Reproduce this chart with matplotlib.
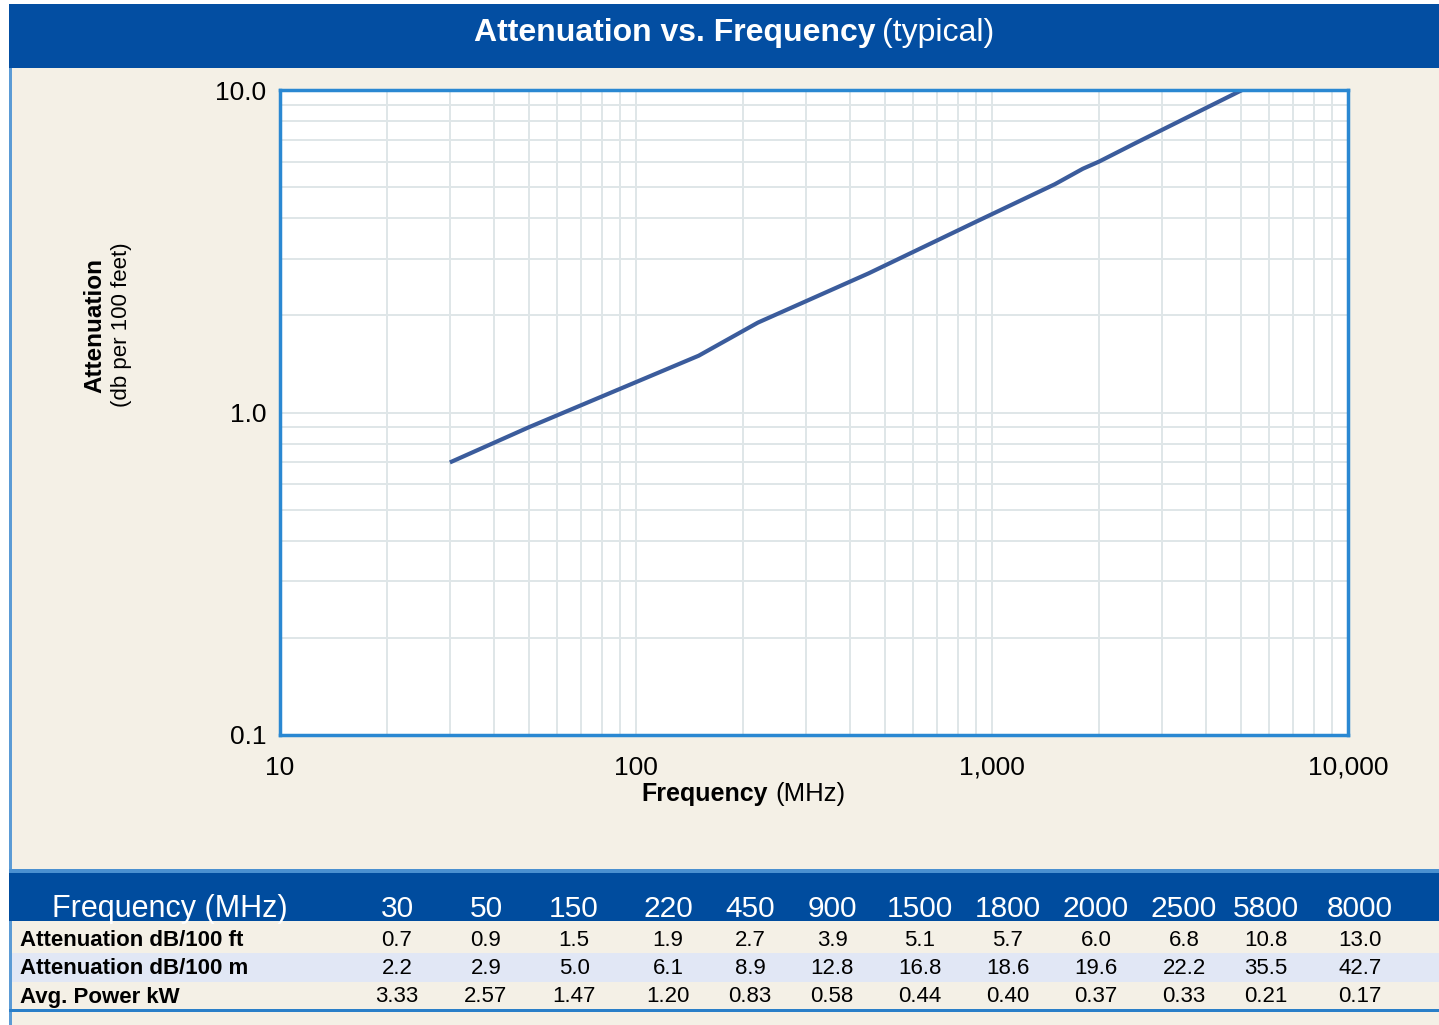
import matplotlib
matplotlib.use("Agg")
import matplotlib.pyplot as plt
from matplotlib.patches import Rectangle
from matplotlib.ticker import LogLocator, FixedLocator, FixedFormatter, NullFormatter

plt.rcParams['font.family'] = ['Liberation Sans', 'DejaVu Sans']
NARROW = ['Liberation Sans Narrow', 'Liberation Sans', 'DejaVu Sans']

# table / curve data
freq_mhz = [30, 50, 150, 220, 450, 900, 1500, 1800, 2000, 2500, 5800, 8000]
att_100ft = [0.7, 0.9, 1.5, 1.9, 2.7, 3.9, 5.1, 5.7, 6.0, 6.8, 10.8, 13.0]
att_100m = [2.2, 2.9, 5.0, 6.1, 8.9, 12.8, 16.8, 18.6, 19.6, 22.2, 35.5, 42.7]
avg_power_kw = ["3.33", "2.57", "1.47", "1.20", "0.83", "0.58", "0.44", "0.40", "0.37", "0.33", "0.21", "0.17"]
row_labels = ["Attenuation dB/100 ft", "Attenuation dB/100 m", "Avg. Power kW"]

x_ticks = [10, 100, 1000, 10000]
x_ticklabels = ["10", "100", "1,000", "10,000"]
y_ticks = [0.1, 1, 10]
y_ticklabels = ["0.1", "1.0", "10.0"]

# layout (pixels)
W, H = 1439, 1025
col_x = [397, 486, 574, 668, 750, 832, 920, 1008, 1096, 1184, 1266, 1360]
BLUE = "#034ea2"
BEIGE = "#f4f0e6"
EDGE = "#2a88d2"


def fx(x):
    return x / W


def fy(y):
    return 1 - y / H


def rect(x0, y0, x1, y1, color, z=-10):
    fig.patches.append(Rectangle((fx(x0), fy(y1)), fx(x1) - fx(x0), fy(y0) - fy(y1),
                                 transform=fig.transFigure, color=color, zorder=z, lw=0))


fig = plt.figure(figsize=(W / 100, H / 100), dpi=100, facecolor="white")

# background panel and bars
rect(9, 4, W, H, BEIGE, -20)
rect(9, 4, 12, H, "#5b9bd5")
rect(9, 4, W, 68, BLUE)
rect(9, 869, W, 873, "#4a90d0")
rect(9, 873, W, 921, "#004c9e")
rect(12, 953, W, 982, "#e1e7f5")
rect(9, 1009, W, 1012, "#2a7fc8")

fig.text(fx(876), fy(33), "Attenuation vs. Frequency", color="white", fontsize=23,
         fontweight="bold", ha="right", va="center")
fig.text(fx(882), fy(33), "(typical)", color="white", fontsize=23, ha="left", va="center")

# chart
ax = fig.add_axes([fx(280), fy(735), fx(1348) - fx(280), fy(90) - fy(735)])
ax.set_zorder(2)
ax.set_facecolor("white")
ax.set_xscale("log")
ax.set_yscale("log")
ax.set_xlim(10, 10000)
ax.set_ylim(0.1, 10)
ax.plot(freq_mhz, att_100ft, color="#3b5c9c", lw=3, solid_capstyle="butt")

ax.xaxis.set_major_locator(FixedLocator(x_ticks))
ax.xaxis.set_major_formatter(FixedFormatter(x_ticklabels))
ax.yaxis.set_major_locator(FixedLocator(y_ticks))
ax.yaxis.set_major_formatter(FixedFormatter(y_ticklabels))
ax.xaxis.set_minor_locator(LogLocator(base=10, subs=range(2, 10)))
ax.yaxis.set_minor_locator(LogLocator(base=10, subs=range(2, 10)))
ax.xaxis.set_minor_formatter(NullFormatter())
ax.yaxis.set_minor_formatter(NullFormatter())
ax.grid(True, which="both", color="#dfe6e8", lw=1.4)
ax.set_axisbelow(True)
ax.tick_params(which="both", length=0)
ax.tick_params(axis="x", pad=15, labelsize=19)
ax.tick_params(axis="y", pad=10, labelsize=19)
for s in ax.spines.values():
    s.set_color(EDGE)
    s.set_linewidth(2.5)

fig.text(fx(768), fy(794), "Frequency", fontsize=18, fontweight="bold", ha="right", va="center")
fig.text(fx(775), fy(794), "(MHz)", fontsize=18.5, ha="left", va="center")
fig.text(fx(95), fy(325), "Attenuation", fontsize=17.5, fontweight="bold", rotation=90,
         ha="center", va="center")
fig.text(fx(122), fy(325), "(db per 100 feet)", fontsize=16, rotation=90,
         ha="center", va="center")

# table
fig.text(fx(52), fy(909), "Frequency (MHz)", color="white", fontsize=22, ha="left", va="center")
for x, f in zip(col_x, freq_mhz):
    fig.text(fx(x), fy(909), str(f), color="white", fontsize=21.5, ha="center", va="center")

rows = [[f"{v:.1f}" for v in att_100ft], [f"{v:.1f}" for v in att_100m], avg_power_kw]
row_y = [940, 968, 997]
for label, vals, y in zip(row_labels, rows, row_y):
    fig.text(fx(20), fy(y), label, fontsize=16, fontweight="bold", ha="left", va="center")
    for x, v in zip(col_x, vals):
        fig.text(fx(x), fy(y), v, fontsize=16, ha="center", va="center")

fig.savefig("out.png", dpi=100, facecolor=fig.get_facecolor())
